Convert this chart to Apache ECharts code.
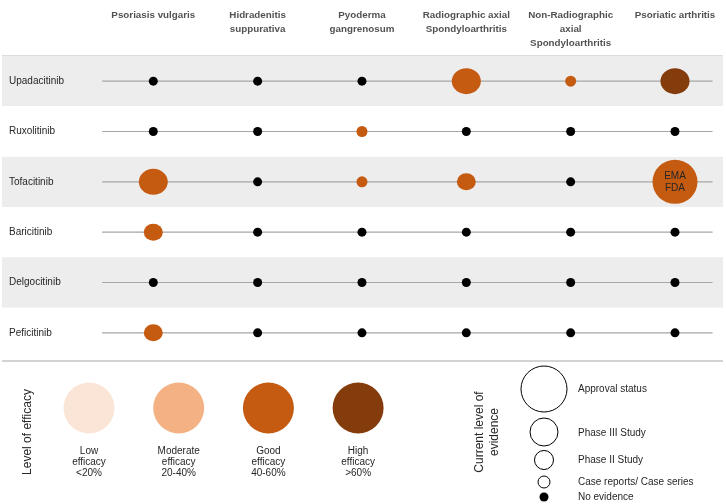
<!DOCTYPE html>
<html>
<head>
<meta charset="utf-8">
<script src="https://cdn.jsdelivr.net/npm/echarts@6/dist/echarts.min.js"></script>
<style>
html,body{margin:0;padding:0;background:#fff;}
#chart{width:726px;height:504px;}
</style>
</head>
<body>
<div id="chart"></div>
<script>
// ---------- data ----------
const drugs = ['Upadacitinib', 'Ruxolitinib', 'Tofacitinib', 'Baricitinib', 'Delgocitinib', 'Peficitinib'];
const diseases = ['Psoriasis vulgaris', 'Hidradenitis\nsuppurativa', 'Pyoderma\ngangrenosum',
  'Radiographic axial\nSpondyloarthritis', 'Non-Radiographic\naxial\nSpondyloarthritis', 'Psoriatic arthritis'];
// evidence level: 0 none, 1 case reports/series, 2 phase II, 3 phase III, 4 approval
const evidenceLevels = [
  [0, 0, 0, 3, 1, 3],
  [0, 0, 1, 0, 0, 0],
  [3, 0, 1, 2, 0, 4],
  [2, 0, 0, 0, 0, 0],
  [0, 0, 0, 0, 0, 0],
  [2, 0, 0, 0, 0, 0]
];
// efficacy level: 0 none, 1 low, 2 moderate, 3 good, 4 high
const efficacyLevels = [
  [0, 0, 0, 3, 3, 4],
  [0, 0, 3, 0, 0, 0],
  [3, 0, 3, 3, 0, 3],
  [3, 0, 0, 0, 0, 0],
  [0, 0, 0, 0, 0, 0],
  [3, 0, 0, 0, 0, 0]
];
const cellNotes = [
  ['', '', '', '', '', ''],
  ['', '', '', '', '', ''],
  ['', '', '', '', '', 'EMA\nFDA'],
  ['', '', '', '', '', ''],
  ['', '', '', '', '', ''],
  ['', '', '', '', '', '']
];
const efficacyLabels = ['Low\nefficacy\n<20%', 'Moderate\nefficacy\n20-40%', 'Good\nefficacy\n40-60%', 'High\nefficacy\n>60%'];
const evidenceLabels = ['No evidence', 'Case reports/ Case series', 'Phase II Study', 'Phase III Study', 'Approval status'];

// ---------- style ----------
const FONT = '"Liberation Sans", Arial, sans-serif';
const efficacyColors = ['#000000', '#FBE5D6', '#F4B183', '#C55A11', '#843C0C'];
const evidenceSizes = [[9, 9], [11, 11], [19, 17], [29, 26], [45, 44]];
const XMIN = -1.45, XMAX = 5.46;

const chart = echarts.init(document.getElementById('chart'), null, { renderer: 'canvas' });

const bubbleData = [];
drugs.forEach((d, r) => {
  diseases.forEach((dz, c) => {
    const ev = evidenceLevels[r][c];
    const ef = efficacyLevels[r][c];
    bubbleData.push({
      value: [c, d],
      symbolSize: evidenceSizes[ev],
      itemStyle: { color: ev === 0 ? '#000' : efficacyColors[ef], opacity: 1 },
      label: {
        show: !!cellNotes[r][c],
        formatter: cellNotes[r][c],
        position: 'inside',
        fontSize: 10, fontFamily: FONT, color: '#262626', lineHeight: 12
      }
    });
  });
});

const rowLines = drugs.map(d => ({
  type: 'line', xAxisIndex: 0, yAxisIndex: 0, silent: true, showSymbol: false, symbol: 'none',
  z: 1, lineStyle: { color: '#a6a6a6', width: 1.2 },
  data: [[-0.49, d], [5.36, d]]
}));

// legend graphics
const graphics = [];
graphics.push({ type: 'line', shape: { x1: 2, y1: 56, x2: 723, y2: 56 }, style: { stroke: '#d0d0d0', lineWidth: 1.5 } });
graphics.push({ type: 'line', shape: { x1: 2, y1: 361, x2: 723, y2: 361 }, style: { stroke: '#c4c4c4', lineWidth: 1.5 } });
graphics.push({
  type: 'text', x: 28, y: 432, rotation: Math.PI / 2,
  style: { text: 'Level of efficacy', fontSize: 12, fontFamily: FONT, fill: '#262626', align: 'center', verticalAlign: 'middle' }
});
efficacyLabels.forEach((t, i) => {
  const cx = 89 + 89.7 * i;
  graphics.push({ type: 'circle', shape: { cx: cx, cy: 408, r: 25.5 }, style: { fill: efficacyColors[i + 1] } });
  graphics.push({
    type: 'text', x: cx, y: 446,
    style: { text: t, fontSize: 10, fontFamily: FONT, fill: '#262626', align: 'center', verticalAlign: 'top', lineHeight: 11 }
  });
});
graphics.push({
  type: 'text', x: 487, y: 432, rotation: Math.PI / 2,
  style: { text: 'Current level of\nevidence', fontSize: 12, fontFamily: FONT, fill: '#262626', align: 'center', verticalAlign: 'middle', lineHeight: 15 }
});
const evY = [497, 482, 460, 432, 389];
const evR = [4.5, 6, 9.5, 14, 23];
evidenceLabels.forEach((t, i) => {
  graphics.push({
    type: 'circle', shape: { cx: 544, cy: evY[i], r: evR[i] },
    style: i === 0 ? { fill: '#000' } : { fill: '#fff', stroke: '#000', lineWidth: 1 }
  });
  graphics.push({
    type: 'text', x: 578, y: evY[i] + (i === 3 ? 1 : 0),
    style: { text: t, fontSize: 10, fontFamily: FONT, fill: '#262626', align: 'left', verticalAlign: 'middle' }
  });
});

const option = {
  animation: false,
  backgroundColor: '#fff',
  grid: [
    { left: 2, right: 3, top: 56, bottom: 146 },
    { left: 2, right: 3, top: 0, height: 56 }
  ],
  xAxis: [
    { type: 'value', gridIndex: 0, min: XMIN, max: XMAX, show: false },
    { type: 'value', gridIndex: 1, min: XMIN, max: XMAX, show: false }
  ],
  yAxis: [
    {
      type: 'category', gridIndex: 0, data: drugs, inverse: true,
      axisLine: { show: false }, axisTick: { show: false },
      axisLabel: { inside: true, margin: 7, fontSize: 10, fontFamily: FONT, color: '#262626', padding: [0, 0, 5, 0] },
      splitArea: { show: true, areaStyle: { color: ['#ededed', '#ffffff'] } },
      splitLine: { show: false }
    },
    { type: 'value', gridIndex: 1, min: 0, max: 56, inverse: true, show: false }
  ],
  series: rowLines.concat([
    {
      type: 'scatter', xAxisIndex: 0, yAxisIndex: 0, z: 3, silent: true,
      symbol: 'circle', data: bubbleData, itemStyle: { opacity: 1 }
    },
    {
      type: 'scatter', xAxisIndex: 1, yAxisIndex: 1, silent: true, symbolSize: 0,
      data: diseases.map((d, i) => ({ value: [i, 8], name: d })),
      label: {
        show: true, position: 'inside', formatter: p => p.name,
        align: 'center', verticalAlign: 'top',
        fontSize: 9.8, fontWeight: 'bold', fontFamily: FONT, color: '#262626', lineHeight: 14
      }
    }
  ]),
  graphic: graphics
};
chart.setOption(option);
</script>
</body>
</html>
